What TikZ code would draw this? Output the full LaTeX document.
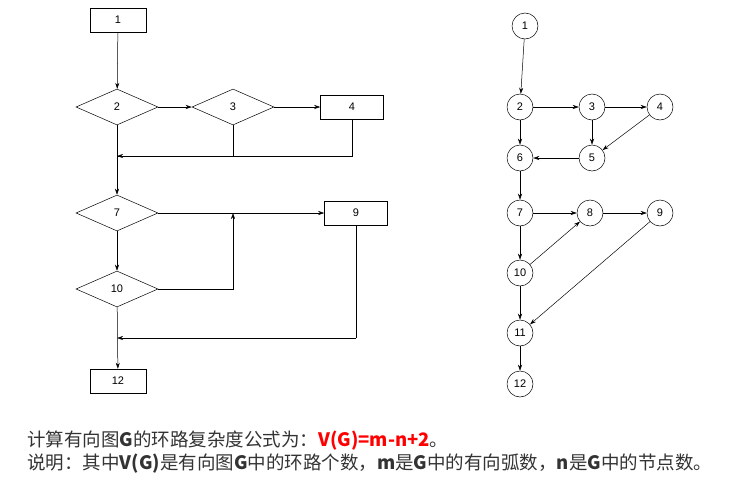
\documentclass[tikz,border=0pt]{standalone}
\usepackage{fontspec}
\setmainfont{Liberation Sans}
\newfontfamily\cjk{Noto Sans CJK SC}
\usetikzlibrary{shapes.geometric,arrows.meta}
\begin{document}
\begin{tikzpicture}[x=1pt,y=-1pt,font=\fontsize{11}{13}\selectfont,
  box/.style={draw,minimum width=56pt,minimum height=24pt,inner sep=0},
  dia/.style={draw,diamond,aspect=2.3,minimum width=82pt,minimum height=36pt,inner sep=0},
  cir/.style={draw,circle,minimum size=26pt,inner sep=0},
  ar/.style={-{Stealth[length=6pt,width=4pt]}},
  txt/.style={anchor=west,inner sep=0,text=black!80,font=\fontsize{18.5}{20}\selectfont\cjk},
  every path/.style={line width=0.5pt}]
\useasboundingbox (0,0) rectangle (731,490);
% left
\node[box] (b1) at (118,20) {1};
\node[dia] (d2) at (117,107) {2};
\node[dia] (d3) at (233,107) {3};
\node[box,minimum width=63pt] (b4) at (352,107) {4};
\node[dia] (d7) at (117,213) {7};
\node[box,minimum width=63pt] (b9) at (356,213) {9};
\node[dia] (d10) at (117,289) {10};
\node[box] (b12) at (118,381) {12};
\coordinate (m1) at (117,156);
\coordinate (m2) at (233,213);
\coordinate (m3) at (117,338);
\draw[ar] (b1) -- (d2);
\draw[ar] (d2) -- (d3);
\draw[ar] (d3) -- (b4);
\draw (b4.south) |- (d3.south |- m1);
\draw (d3.south) |- (m1);
\draw[ar] (b4.south |- m1) -- (m1);
\draw[ar] (d2) -- (d7);
\draw[ar] (d7) -- (b9);
\draw[ar] (d7) -- (d10);
\draw[ar] (d10.east) -| (m2);
\draw (b9.south) |- (b9.south |- m3);
\draw[ar] (b9.south |- m3) -- (m3);
\draw[ar] (d10) -- (b12);
% right
\node[cir] (n1) at (525,26) {1};
\node[cir] (n2) at (520,107) {2};
\node[cir] (n3) at (592,107) {3};
\node[cir] (n4) at (660,107) {4};
\node[cir] (n5) at (592,158) {5};
\node[cir] (n6) at (520,158) {6};
\node[cir] (n7) at (520,213) {7};
\node[cir] (n8) at (590,213) {8};
\node[cir] (n9) at (660,213) {9};
\node[cir] (n10) at (520,273) {10};
\node[cir] (n11) at (520,333) {11};
\node[cir] (n12) at (520,384) {12};
\foreach \a/\b in {n1/n2,n2/n3,n3/n4,n2/n6,n3/n5,n4/n5,n5/n6,n6/n7,n7/n8,n8/n9,n7/n10,n10/n8,n10/n11,n9/n11,n11/n12}
  \draw[ar] (\a) -- (\b);
% text
\node[txt] (t1) at (27,441) {计算有向图\textbf{G}的环路复杂度公式为：\textcolor{red}{\textbf{V(G)=m-n+2}}。};
\node[txt] (t2) at (27,464) {说明：其中\textbf{V(G)}是有向图\textbf{G}中的环路个数，\textbf{m}是\textbf{G}中的有向弧数，\textbf{n}是\textbf{G}中的节点数。};
\end{tikzpicture}
\end{document}
